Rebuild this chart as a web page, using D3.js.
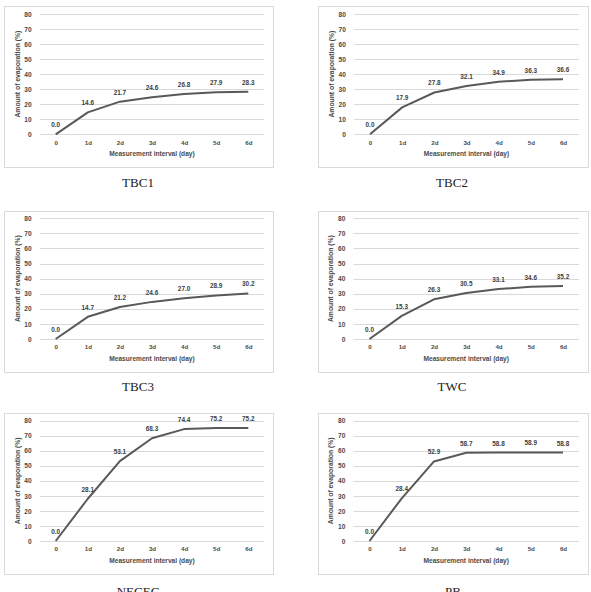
<!DOCTYPE html>
<html><head><meta charset="utf-8">
<script src="https://cdn.jsdelivr.net/npm/d3@7"></script>
<style>
html,body{margin:0;padding:0;background:#fff;}
svg{display:block;}
</style></head>
<body>
<svg id="chart" width="591" height="592"></svg>
<script>
const categories = ["0","1d","2d","3d","4d","5d","6d"];
const yTicks = [0,10,20,30,40,50,60,70,80];
const tbc1 = [0.0,14.6,21.7,24.6,26.8,27.9,28.3];
const tbc2 = [0.0,17.9,27.8,32.1,34.9,36.3,36.6];
const tbc3 = [0.0,14.7,21.2,24.6,27.0,28.9,30.2];
const twc = [0.0,15.3,26.3,30.5,33.1,34.6,35.2];
const necec = [0.0,28.1,53.1,68.3,74.4,75.2,75.2];
const pb = [0.0,28.4,52.9,58.7,58.8,58.9,58.8];
const names = ["TBC1","TBC2","TBC3","TWC","NECEC","PB"];
const seriesList = [tbc1,tbc2,tbc3,twc,necec,pb];

// layout per panel
const layouts = [
  {frame:[4,6,273,167], x:[55.7,248.3], y:[134.3,14], cap:[138,187]},
  {frame:[318,6,588,167], x:[370,563], y:[134.3,14], cap:[452,187]},
  {frame:[4,211,273,372], x:[55.7,248.3], y:[339,218.3], cap:[138,391]},
  {frame:[318,211,588,372], x:[369.5,563], y:[339,218.3], cap:[452,391]},
  {frame:[4,413,273,574], x:[55.7,248.3], y:[541,420.7], cap:[138,596]},
  {frame:[318,413,588,574], x:[369.5,563], y:[541,420.7], cap:[453,596]}
];

const svg = d3.select("#chart");
const sans = "'Liberation Sans', Arial, sans-serif";
const txtCol = "#4a4a4a";

seriesList.forEach((data, i) => {
  const L = layouts[i];
  const g = svg.append("g");
  const [fx0,fy0,fx1,fy1] = L.frame;
  g.append("rect").attr("x",fx0+0.5).attr("y",fy0+0.5)
    .attr("width",fx1-fx0).attr("height",fy1-fy0)
    .attr("fill","#fff").attr("stroke","#d9d9d9").attr("stroke-width",1);

  const step = (L.x[1]-L.x[0])/6;
  const x = d3.scalePoint().domain(categories).range(L.x);
  const y = d3.scaleLinear().domain([0,80]).range(L.y);
  const gx0 = L.x[0]-step/2, gx1 = L.x[1]+step/2;

  // gridlines
  g.append("g").selectAll("line").data(yTicks).join("line")
    .attr("x1",gx0).attr("x2",gx1)
    .attr("y1",d=>Math.round(y(d))+0.5).attr("y2",d=>Math.round(y(d))+0.5)
    .attr("stroke","#d9d9d9").attr("stroke-width",1);

  // y axis labels
  const ya = d3.axisLeft(y).tickValues(yTicks).tickSize(0).tickPadding(0);
  const yg = g.append("g").attr("transform",`translate(${gx0-8},0)`).call(ya);
  yg.select(".domain").remove();
  yg.selectAll("text").attr("font-family",sans).attr("font-size","6.6px")
    .attr("font-weight","bold").attr("fill",txtCol);

  // x axis labels
  const xa = d3.axisBottom(x).tickSize(0).tickPadding(0);
  const xg = g.append("g").attr("transform",`translate(0,${L.y[0]+6})`).call(xa);
  xg.select(".domain").remove();
  xg.selectAll("text").attr("font-family",sans).attr("font-size","6.2px")
    .attr("font-weight","bold").attr("fill",txtCol);

  // axis titles
  g.append("text").attr("x",(L.x[0]+L.x[1])/2).attr("y",L.y[0]+22)
    .attr("text-anchor","middle").attr("font-family",sans).attr("font-size","6.6px")
    .attr("font-weight","bold").attr("fill",txtCol).text("Measurement interval (day)");
  const ycx = gx0-20, ycy = (L.y[0]+L.y[1])/2;
  g.append("text").attr("transform",`translate(${ycx},${ycy}) rotate(-90)`)
    .attr("text-anchor","middle").attr("font-family",sans).attr("font-size","6.8px")
    .attr("font-weight","bold").attr("fill",txtCol).text("Amount of evaporation (%)");

  // line
  const line = d3.line().x((d,j)=>x(categories[j])).y(d=>y(d));
  g.append("path").datum(data).attr("d",line)
    .attr("fill","none").attr("stroke","#595959").attr("stroke-width",2)
    .attr("stroke-linejoin","round");

  // data labels
  g.append("g").selectAll("text").data(data).join("text")
    .attr("x",(d,j)=>x(categories[j])).attr("y",d=>y(d)-7)
    .attr("text-anchor","middle").attr("font-family",sans).attr("font-size","6.4px")
    .attr("font-weight","bold").attr("fill","#404040").text(d=>d.toFixed(1));

  // caption
  svg.append("text").attr("x",L.cap[0]).attr("y",L.cap[1])
    .attr("text-anchor","middle").attr("font-family","'Liberation Serif', 'Times New Roman', serif")
    .attr("font-size","13px").attr("fill","#222").text(names[i]);
});
</script>
</body></html>
